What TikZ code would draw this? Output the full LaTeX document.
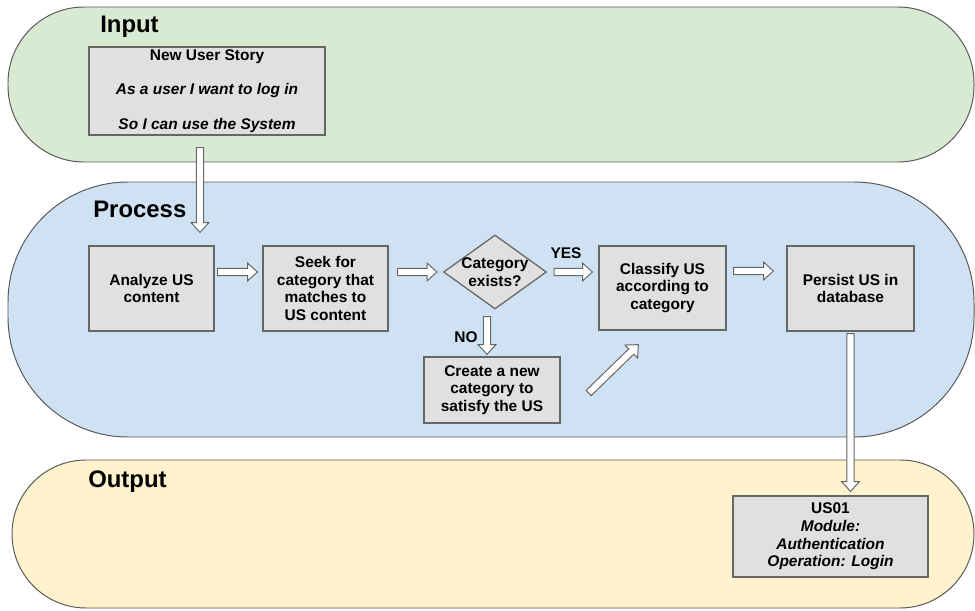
\documentclass[tikz,border=0pt]{standalone}
\usepackage{fontspec}
\setmainfont{Liberation Sans}
\usetikzlibrary{
    calc,
    shapes.geometric,
    positioning
}
\definecolor{inputfill}{HTML}{D9EAD3}
\definecolor{procfill}{HTML}{CFE2F3}
\definecolor{outfill}{HTML}{FFF2CC}
\definecolor{boxfill}{HTML}{E0E0E0}
\definecolor{boxline}{HTML}{666666}
\definecolor{laneline}{HTML}{595959}
\tikzset{
    lane/.style={draw=laneline, line width=0.7pt},
    lanetitle/.style={anchor=base west, font=\fontsize{17}{20}\selectfont\bfseries, inner sep=0pt},
    stepbox/.style={draw=boxline, fill=boxfill, line width=0.9pt, align=center,
        font=\fontsize{11}{12.5}\selectfont\bfseries, inner sep=1pt},
    decision/.style={diamond, draw=boxline, fill=boxfill, line width=0.9pt, inner sep=0pt,
        minimum width=2.575cm, minimum height=1.85cm},
    answer/.style={font=\fontsize{11}{12.5}\selectfont\bfseries, inner sep=0pt},
    hollow/.style={draw=boxline, fill=white, line width=0.7pt, line join=miter}
}
% hollow block arrow from #1 to #2
\newcommand{\fatarrow}[2]{%
    \coordinate (fa-s) at #1;
    \coordinate (fa-e) at #2;
    \coordinate (fa-h) at ($(fa-e)!7pt!(fa-s)$);
    \draw[hollow] ($(fa-s)!2.6pt!90:(fa-e)$) -- ($(fa-h)!2.6pt!90:(fa-e)$)
        -- ($(fa-h)!6.4pt!90:(fa-e)$) -- (fa-e) -- ($(fa-h)!6.4pt!-90:(fa-e)$)
        -- ($(fa-h)!2.6pt!-90:(fa-e)$) -- ($(fa-s)!2.6pt!-90:(fa-e)$) -- cycle;
}

\begin{document}
\begin{tikzpicture}[x=0.025cm, y=-0.025cm]
    \useasboundingbox (0, 0) rectangle (975, 611);

    % lanes
    \draw[lane, fill=inputfill, rounded corners=1.9cm] (8, 7) rectangle (974, 162);
    \draw[lane, fill=procfill, rounded corners=3cm] (8, 182) rectangle (974, 437);
    \draw[lane, fill=outfill, rounded corners=1.85cm] (12, 460) rectangle (974, 608);

    \node[lanetitle] (tin) at (100, 33) {Input};
    \node[lanetitle] (tproc) at (93, 217) {Process};
    \node[lanetitle] (tout) at (88, 487) {Output};

    % input
    \node[stepbox, minimum width=5.9cm, minimum height=2.2cm] (story) at (207, 91)
        {New User Story\\[12pt] \itshape As a user I want to log in\\[12pt] \itshape So I can use the System};

    % process
    \node[stepbox, minimum width=3.125cm, minimum height=2.125cm] (analyze) at (151.5, 288.5)
        {Analyze US\\content};
    \node[stepbox, minimum width=3.125cm, minimum height=2.125cm] (seek) at (325.5, 288.5)
        {Seek for\\category that\\matches to\\US content};
    \node[decision, label={[answer, align=center]center:Category\\exists?}] (exists) at (495, 272) {};
    \node[stepbox, minimum width=3.175cm, minimum height=2.1cm] (classify) at (662.5, 288)
        {Classify US\\according to\\category};
    \node[stepbox, minimum width=3.175cm, minimum height=2.125cm] (persist) at (850.5, 288.5)
        {Persist US in\\database};
    \node[stepbox, minimum width=3.4cm, minimum height=1.65cm] (create) at (492, 390)
        {Create a new\\category to\\satisfy the US};

    \node[answer] (yes) at (566, 253) {YES};
    \node[answer] (no) at (466, 337) {NO};

    % output
    \node[stepbox, minimum width=4.875cm, minimum height=2.025cm] (us01) at (830.5, 536.5)
        {US01\\ \itshape Module:\\ \itshape Authentication\\ \itshape Operation: Login};

    % arrows
    \coordinate (s1) at ($(story.south)+(-7, 12)$);
    \fatarrow{(s1)}{($(s1 |- analyze.north)+(0, -13)$)}
    \fatarrow{($(analyze.east |- exists.center)+(3, 0)$)}{($(seek.west |- exists.center)+(-5, 0)$)}
    \fatarrow{($(seek.east |- exists.center)+(9, 0)$)}{($(exists.west)+(-6, 0)$)}
    \fatarrow{($(exists.east)+(7, 0)$)}{($(classify.west |- exists.center)+(-6, 0)$)}
    \fatarrow{($(classify.east |- exists.center)+(7, -1)$)}{($(persist.west |- exists.center)+(-13, -1)$)}
    \coordinate (s2) at ($(exists.south)+(-8, 7)$);
    \fatarrow{(s2)}{($(s2 |- create.north)+(0, -2)$)}
    \coordinate (s3) at ($(create.east)+(28, 3)$);
    \coordinate (e3) at ($(classify.south west)+(40, 14)$);
    \fatarrow{(s3)}{(e3)}
    \coordinate (s4) at ($(persist.south)+(0, 2)$);
    \fatarrow{(s4)}{($(s4 |- us01.north)+(0, -4)$)}
\end{tikzpicture}
\end{document}
